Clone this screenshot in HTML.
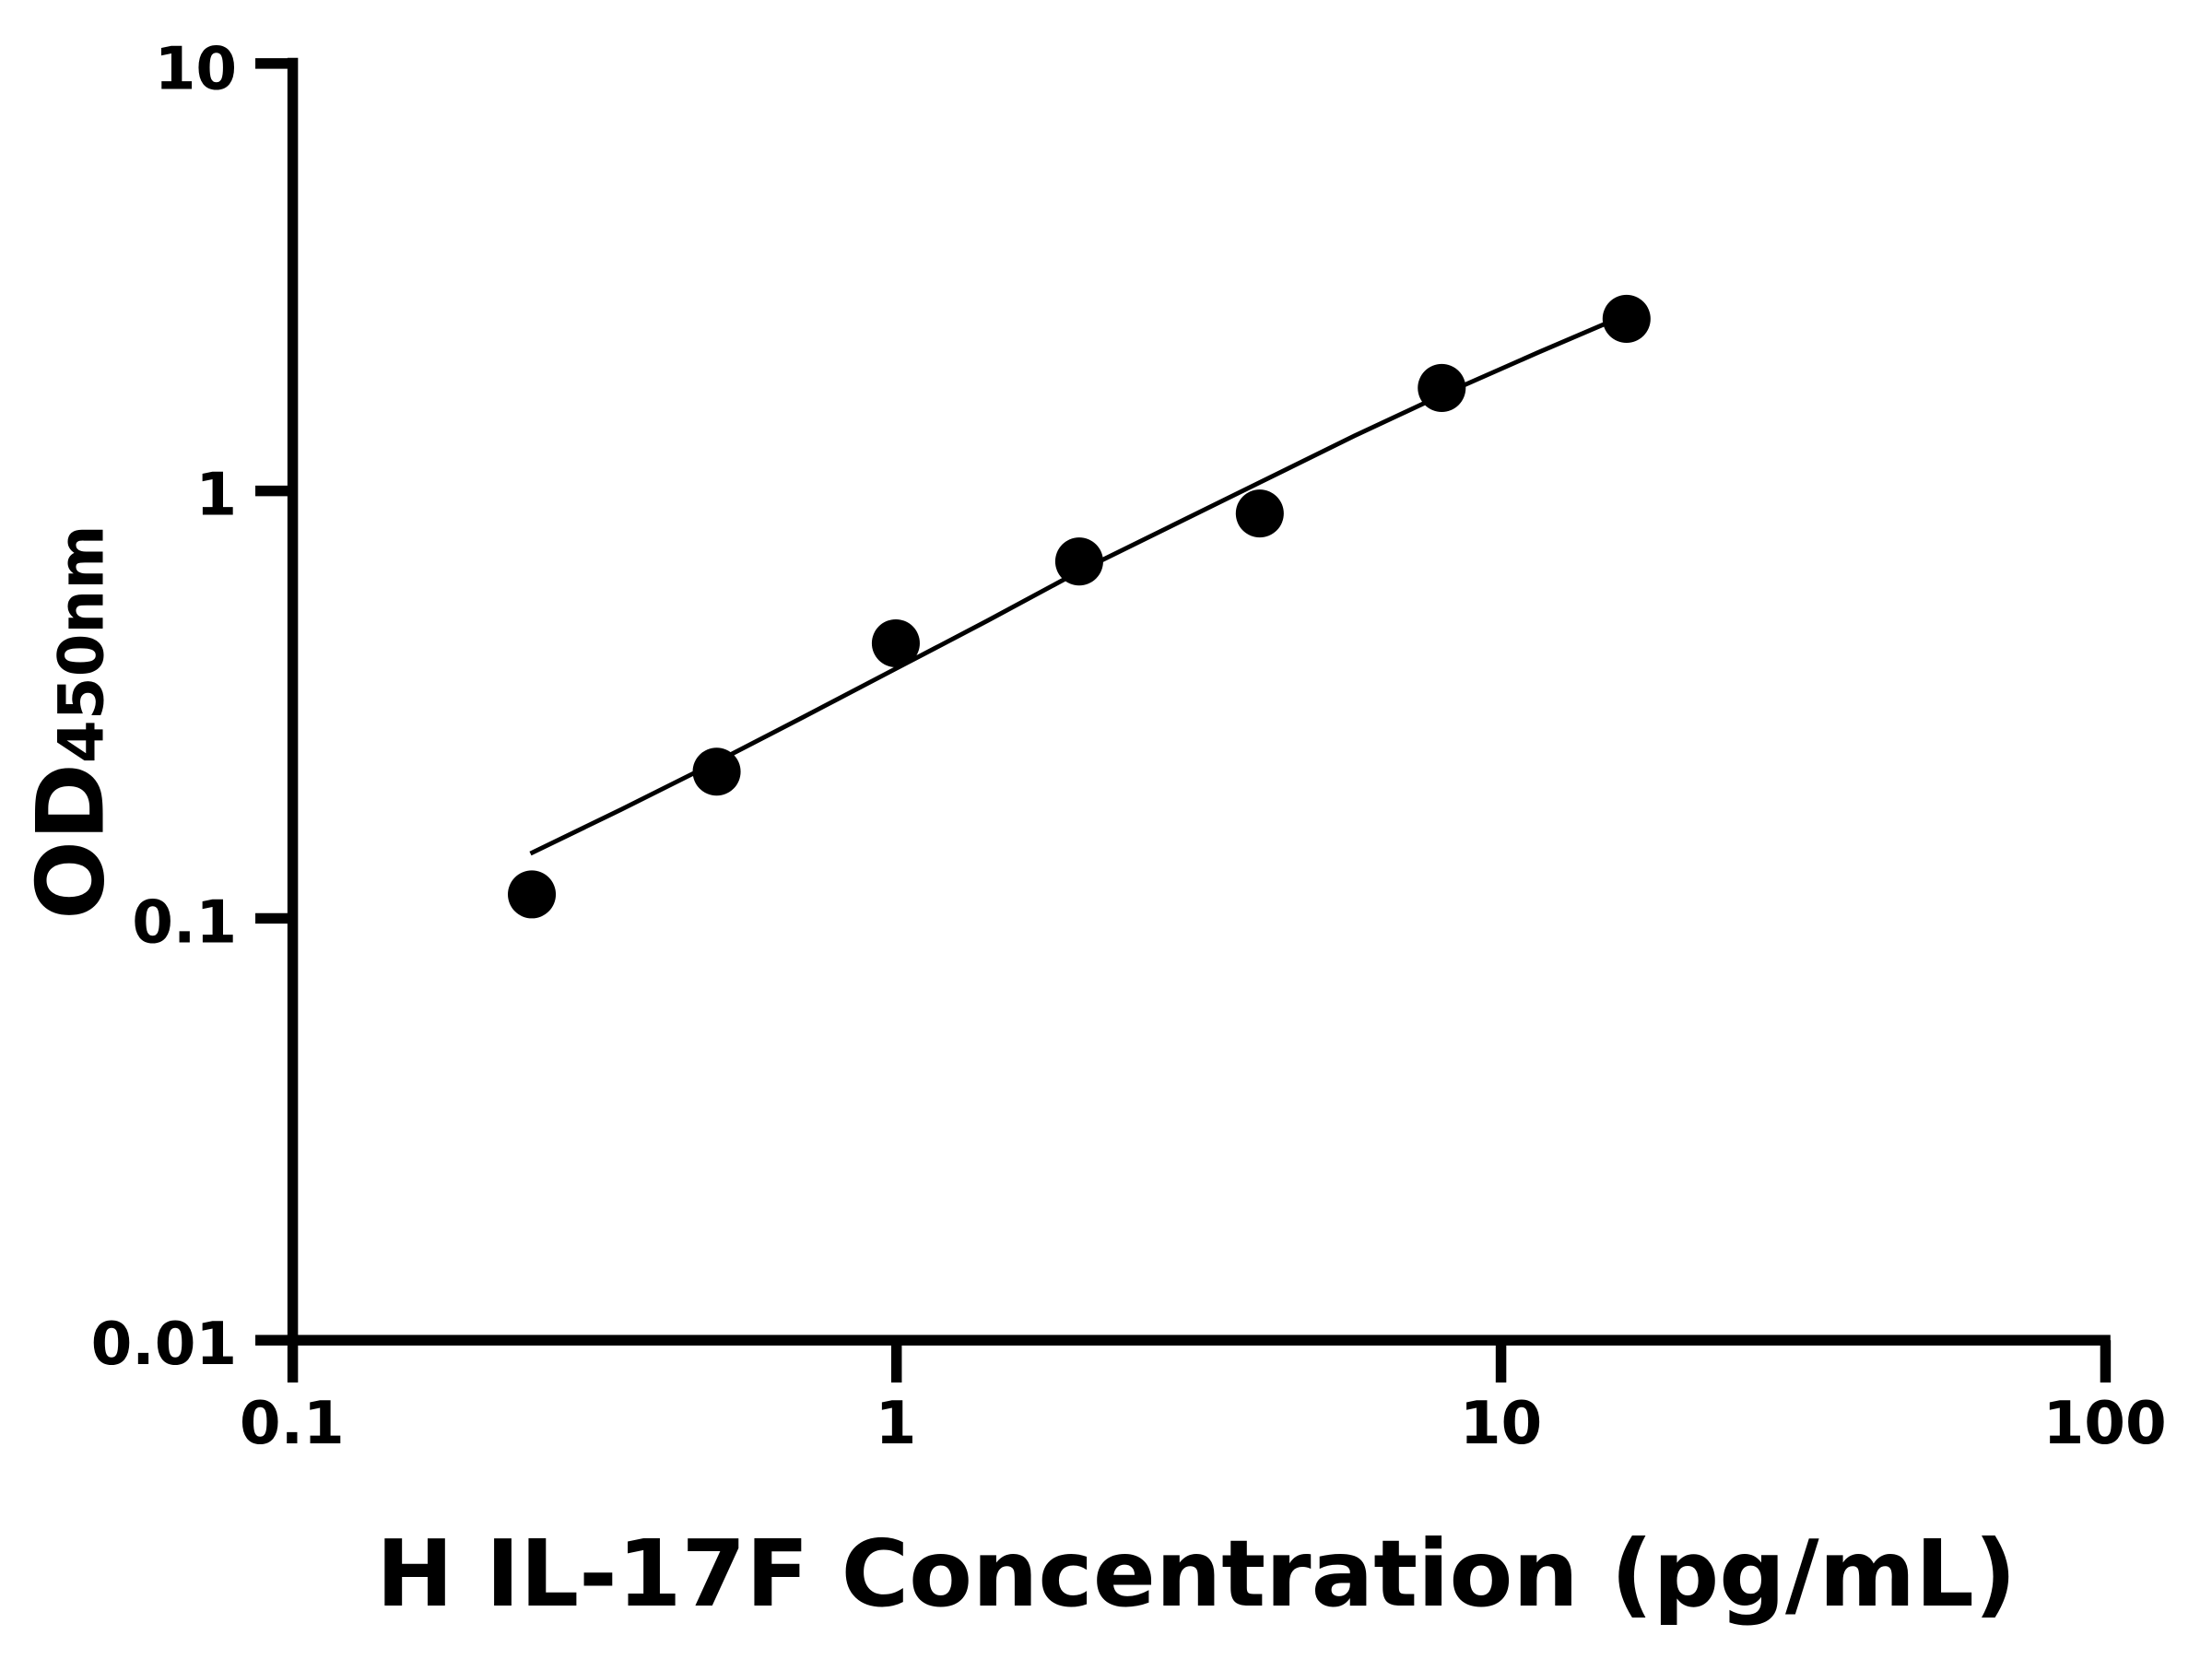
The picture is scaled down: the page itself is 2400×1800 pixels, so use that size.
<!DOCTYPE html>
<html><head><meta charset="utf-8"><style>html,body{margin:0;padding:0;background:#fff}svg{display:block}</style></head>
<body>
<svg width="2400" height="1800" viewBox="0 0 1568 1176" xmlns="http://www.w3.org/2000/svg">
<rect width="1568" height="1176" fill="#fff"/>
<g stroke="#000" stroke-width="7.5" fill="none">
<line x1="207.5" y1="41" x2="207.5" y2="980"/>
<line x1="181" y1="950" x2="1496" y2="950"/>
<line x1="181" y1="45" x2="211" y2="45"/>
<line x1="181" y1="348" x2="207" y2="348"/>
<line x1="181" y1="651" x2="207" y2="651"/>
<line x1="635.5" y1="950" x2="635.5" y2="980"/>
<line x1="1064" y1="950" x2="1064" y2="980"/>
<line x1="1492.5" y1="950" x2="1492.5" y2="980"/>
</g>
<g font-family="'DejaVu Sans','Liberation Sans',sans-serif" font-weight="bold" font-size="42" fill="#000">
<g text-anchor="end">
<text x="168" y="63">10</text>
<text x="168" y="365">1</text>
<text x="168" y="668">0.1</text>
<text x="168" y="967">0.01</text>
</g>
<g text-anchor="middle">
<text x="207" y="1023">0.1</text>
<text x="635" y="1023">1</text>
<text x="1064" y="1023">10</text>
<text x="1492" y="1023">100</text>
</g>
<text x="848" y="1138" text-anchor="middle" font-size="65.5">H IL-17F Concentration (pg/mL)</text>
<text transform="translate(73,512) rotate(-90)" text-anchor="middle" font-size="66">OD<tspan font-size="44">450nm</tspan></text>
</g>
<path d="M376,605 L440,574 L508,540 L570,508 L635,474 L700,440 L765,405 L830,373 L893,342 L960,309 L1022,280 L1090,250 L1153,223" stroke="#000" stroke-width="3.2" fill="none"/>
<g fill="#000">
<circle cx="377" cy="634" r="17"/>
<circle cx="508" cy="547" r="17"/>
<circle cx="635" cy="456" r="17"/>
<circle cx="765" cy="398" r="17"/>
<circle cx="893" cy="364" r="17"/>
<circle cx="1022" cy="275" r="17"/>
<circle cx="1153" cy="226" r="17"/>
</g>
</svg>
</body></html>
